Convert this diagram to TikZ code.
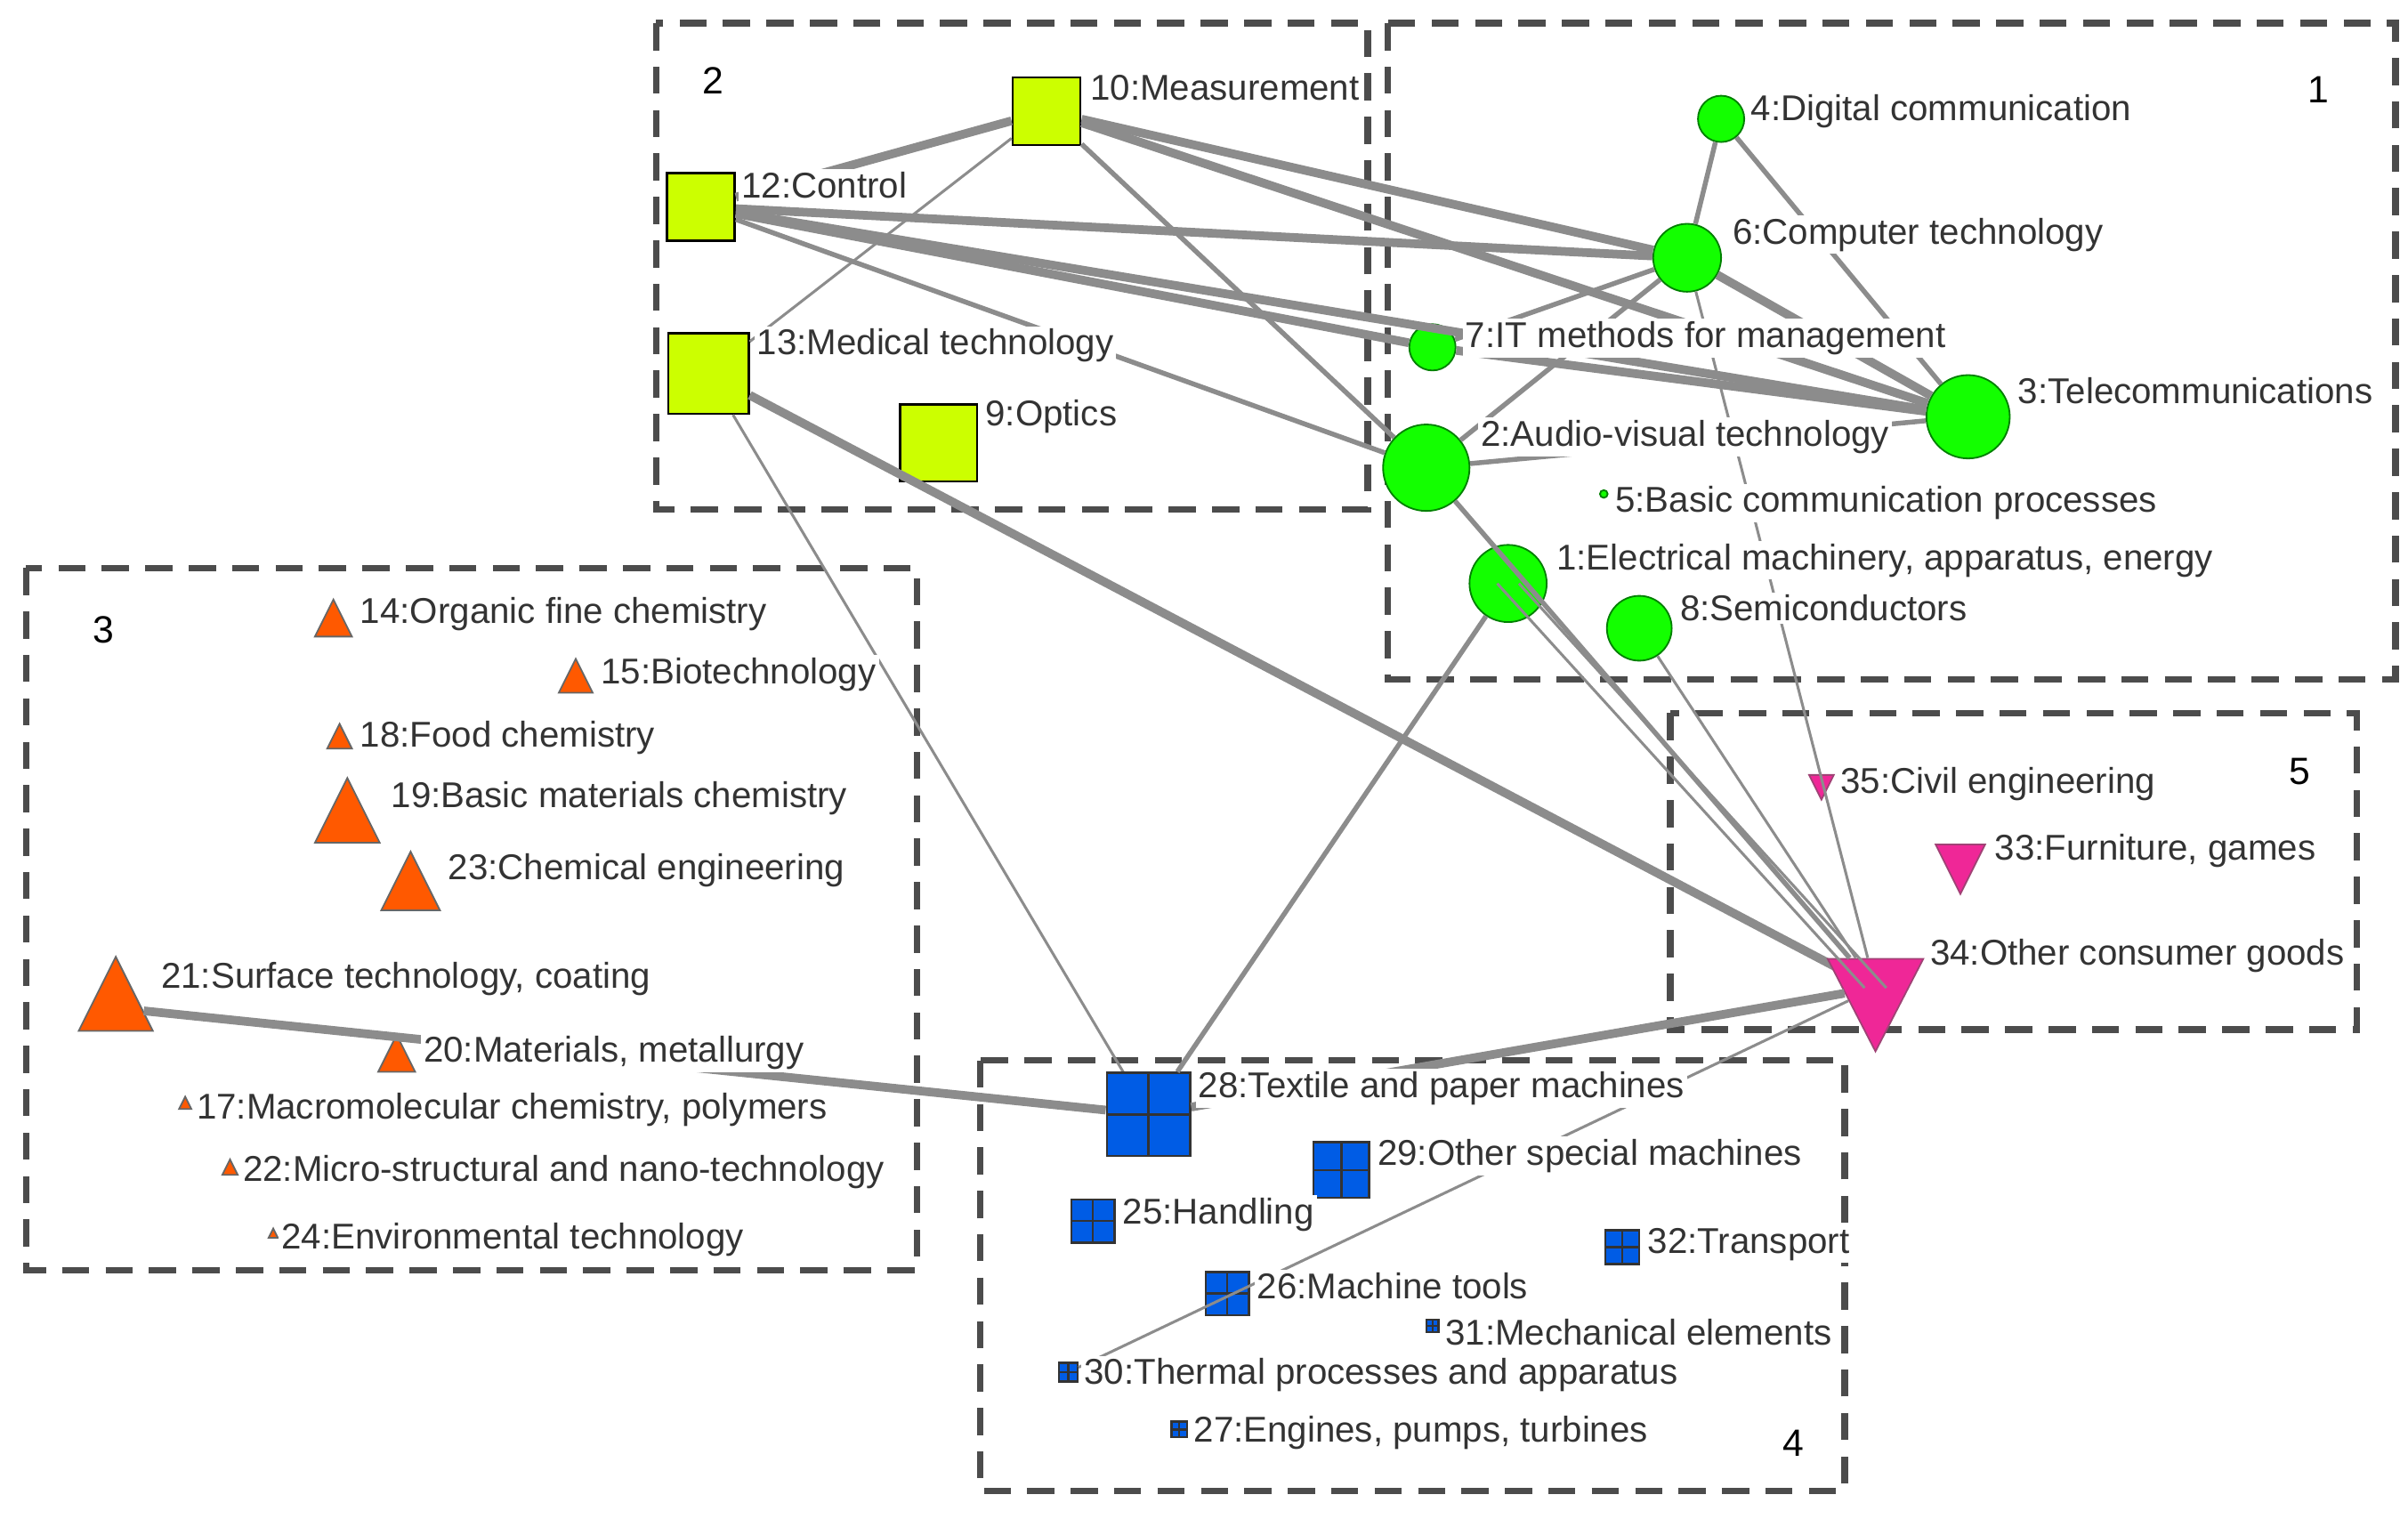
\documentclass[tikz,border=0pt]{standalone}
\usepackage{fontspec}
\setmainfont{Liberation Sans}
\usetikzlibrary{shapes.geometric}
\begin{document}
\begin{tikzpicture}[x=0.01cm,y=-0.01cm,
 box/.style={draw=black!70,line width=1.2pt,dash pattern=on 5pt off 3pt},
 ed/.style={draw=black!45,line width=0.9pt},
 th/.style={draw=black!45,line width=1.6pt},
 tn/.style={draw=black!45,line width=0.5pt},
 s/.style={minimum size=#1*0.01cm},
 t/.style={minimum height=#1*0.01cm,minimum width=#1*0.01cm},
 g1/.style={circle,fill=green!90!lime,draw=green!50!black,line width=0.3pt,inner sep=0pt},
 g2/.style={rectangle,fill=lime!80!yellow,draw=black,line width=0.4pt,inner sep=0pt},
 g3/.style={isosceles triangle,shape border rotate=90,isosceles triangle stretches,fill=orange!70!red,draw=black!60,line width=0.3pt,inner sep=0pt},
 g5/.style={isosceles triangle,shape border rotate=-90,isosceles triangle stretches,fill=magenta!80!pink,draw=magenta!60!black,line width=0.3pt,inner sep=0pt},
 g4/.style={rectangle,fill=blue!60!cyan!90!black,draw=black!80,line width=0.4pt,inner sep=0pt,path picture={\draw[black!80,line width=0.4pt] (path picture bounding box.north)--(path picture bounding box.south) (path picture bounding box.west)--(path picture bounding box.east);}},
 lb/.style={font=\fontsize{6.6}{7.5}\selectfont,inner sep=0.5pt,anchor=west,text=black!80,fill=white},
 num/.style={font=\fontsize{7}{8}\selectfont}]
\useasboundingbox (0,0) rectangle (1560,984);
% boxes
\draw[box] (425,15) rectangle (886,330);
\draw[box] (899,15) rectangle (1552,440);
\draw[box] (17,368) rectangle (594,823);
\draw[box] (1082,462) rectangle (1527,667);
\draw[box] (635,687) rectangle (1195,966);
\node[num] (b2) at (462,52) {2};
\node[num] (b1) at (1502,58) {1};
\node[num] (b3) at (67,408) {3};
\node[num] (b5) at (1490,500) {5};
\node[num] (b4) at (1162,935) {4};
% nodes
\node[g1,s=30] (n4) at (1115,77) {};
\node[g1,s=44] (n6) at (1093,167) {};
\node[g1,s=30] (n7) at (928,225) {};
\node[g1,s=54] (n3) at (1275,270) {};
\node[g1,s=56] (n2) at (924,303) {};
\node[g1,s=5] (n5) at (1039,320) {};
\node[g1,s=50] (n1) at (977,378) {};
\node[g1,s=42] (n8) at (1062,407) {};
\node[g2,s=44] (n10) at (678,72) {};
\node[g2,s=44] (n12) at (454,134) {};
\node[g2,s=52] (n13) at (459,242) {};
\node[g2,s=50] (n9) at (608,287) {};
% edges
\path[th] (n10)--(n12); \path[tn] (n10)--(n13); \path[th] (n10)--(n6); \path[th] (n10)--(n3); \path[ed] (n10)--(n2);
\path[th] (n12)--(n6); \path[th] (n12)--(n3); \path[th] (n12)--(n7); \path[ed] (n12)--(n2);
\path[th] (n13)--(1215,640); \path[tn] (n13)--(744,722);
\path[ed] (n6)--(n4); \path[ed] (n4)--(n3); \path[th] (n6)--(n3); \path[ed] (n6)--(n7); \path[ed] (n6)--(n2);
\path[th] (n7)--(n3); \path[ed] (n2)--(n3);
\node[g3,t=24] (n14) at (216,405) {};
\node[g3,t=22] (n15) at (373,442) {};
\node[g3,t=16] (n18) at (220,480) {};
\node[g3,t=42] (n19) at (225,533) {};
\node[g3,t=38] (n23) at (266,578) {};
\node[g3,t=48] (n21) at (75,653) {};
\node[g3,t=24] (n20) at (257,687) {};
\node[g3,t=8] (n17) at (120,716) {};
\node[g3,t=10] (n22) at (149,758) {};
\node[g3,t=6] (n24) at (177,800) {};
\node[g5,t=16] (n35) at (1180,507) {};
\node[g5,t=32] (n33) at (1270,557) {};
\node[g5,minimum height=60*0.01cm,minimum width=62*0.01cm] (n34) at (1215,640) {};
\node[g4,s=54] (n28) at (744,722) {};
\node[g4,s=36] (n29) at (869,758) {};
\node[g4,s=28] (n25) at (708,791) {};
\node[g4,s=28] (n26) at (795,838) {};
\node[g4,s=22] (n32) at (1051,808) {};
\node[g4,s=8] (n31) at (928,859) {};
\node[g4,s=12] (n30) at (692,889) {};
\node[g4,s=10] (n27) at (764,926) {};
\path[tn] (n6)--(n34);
\path[ed] (n2)--(n34); \path[tn] ([xshift=-2]n1.center)--([xshift=-2]n34.center); \path[tn] ([xshift=2]n1.center)--([xshift=2]n34.center);
\path[tn] (n8)--(n34); \path[ed] (n1)--(n28); \path[th] (n28)--(n34); \path[th] (n21)--(n28); \path[tn] (n30)--(n34);
% labels
\node[lb] (l4) at (1132,72) {4:Digital communication};
\node[lb] (l6) at (1120,152) {6:Computer technology};
\node[lb] (l7) at (947,219) {7:IT methods for management};
\node[lb] (l3) at (1305,253) {3:Telecommunications};
\node[lb] (l2) at (957,283) {2:Audio-visual technology};
\node[lb] (l5) at (1044,326) {5:Basic communication processes};
\node[lb] (l1) at (1006,363) {1:Electrical machinery, apparatus, energy};
\node[lb] (l8) at (1086,394) {8:Semiconductors};
\node[lb] (l10) at (704,57) {10:Measurement};
\node[lb] (l12) at (478,120) {12:Control};
\node[lb] (l13) at (488,224) {13:Medical technology};
\node[lb] (l9) at (636,270) {9:Optics};
\node[lb] (l14) at (231,398) {14:Organic fine chemistry};
\node[lb] (l15) at (387,437) {15:Biotechnology};
\node[lb] (l18) at (231,478) {18:Food chemistry};
\node[lb] (l19) at (251,517) {19:Basic materials chemistry};
\node[lb] (l23) at (288,564) {23:Chemical engineering};
\node[lb] (l21) at (102,634) {21:Surface technology, coating};
\node[lb] (l20) at (272,682) {20:Materials, metallurgy};
\node[lb] (l17) at (125,719) {17:Macromolecular chemistry, polymers};
\node[lb] (l22) at (155,759) {22:Micro-structural and nano-technology};
\node[lb] (l24) at (180,803) {24:Environmental technology};
\node[lb] (l35) at (1190,508) {35:Civil engineering};
\node[lb] (l33) at (1290,551) {33:Furniture, games};
\node[lb] (l34) at (1248,619) {34:Other consumer goods};
\node[lb] (l28) at (774,705) {28:Textile and paper machines};
\node[lb] (l29) at (890,749) {29:Other special machines};
\node[lb] (l25) at (725,787) {25:Handling};
\node[lb] (l32) at (1065,806) {32:Transport};
\node[lb] (l26) at (812,833) {26:Machine tools};
\node[lb] (l31) at (934,863) {31:Mechanical elements};
\node[lb] (l30) at (700,891) {30:Thermal processes and apparatus};
\node[lb] (l27) at (771,928) {27:Engines, pumps, turbines};
\end{tikzpicture}
\end{document}
